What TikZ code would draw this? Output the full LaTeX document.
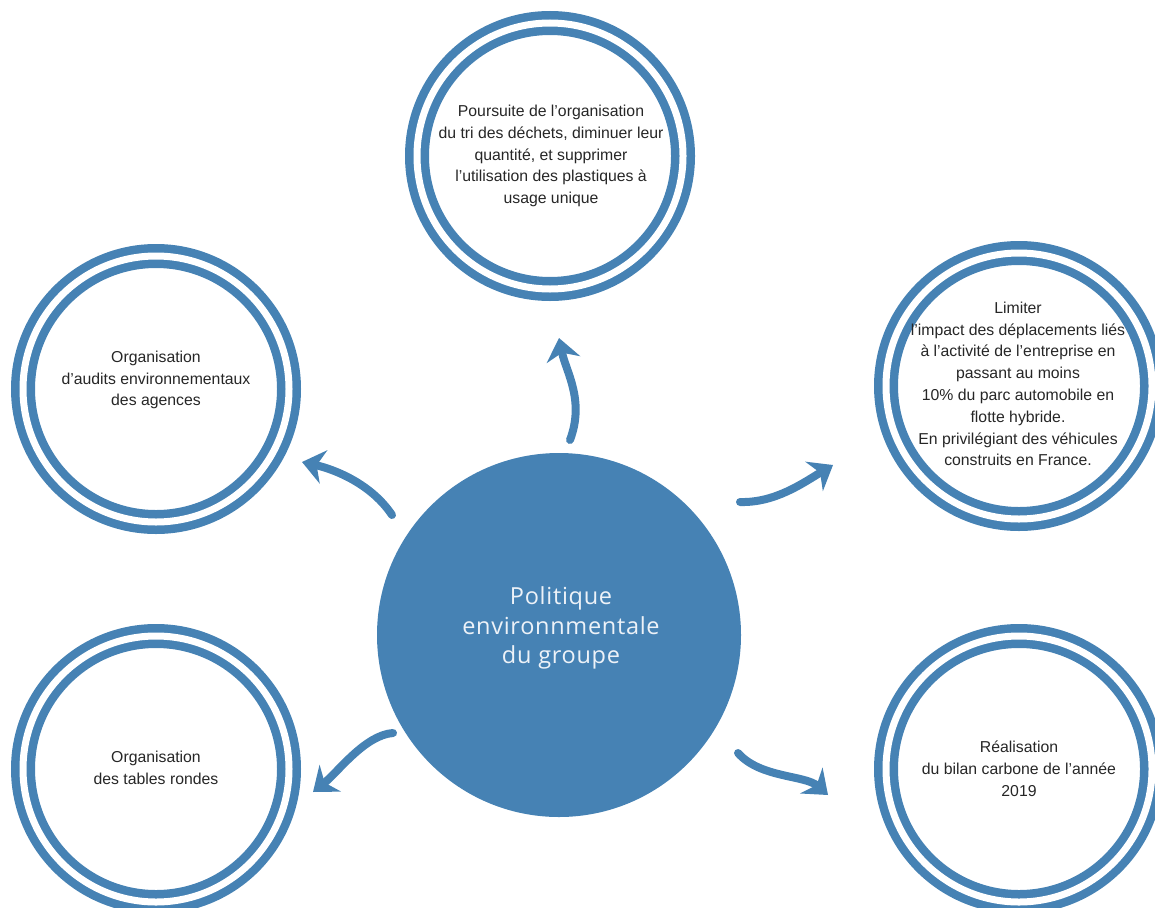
\documentclass[tikz,border=0pt]{standalone}
\usepackage{fontspec}
\setmainfont{Liberation Sans}
\newfontfamily\hubfont[LetterSpace=3]{Open Sans}
\usetikzlibrary{arrows.meta}
\definecolor{ringblue}{HTML}{4682B4}
\definecolor{txtgray}{HTML}{262626}
\definecolor{hubtxt}{HTML}{EDF2F8}
\begin{document}
\begin{tikzpicture}[x=1pt,y=-1pt,
  ring/.style={circle, draw=ringblue, line width=8.5pt, double=white, double distance=7pt, minimum size=266pt, inner sep=0pt},
  ringtext/.style={align=center, text=txtgray, font=\fontsize{15.8}{21.8}\selectfont, inner sep=0pt},
  hub/.style={circle, fill=ringblue, minimum size=364pt, inner sep=0pt},
  hubtext/.style={align=center, text=hubtxt, font=\hubfont\fontsize{23.5}{29.5}\selectfont, inner sep=0pt},
  flow/.style={draw=ringblue, line width=8pt, line cap=round, -{Stealth[length=22pt,width=34pt,inset=7pt]}}
]
\useasboundingbox (0,0) rectangle (1155,907);
\clip (0,0) rectangle (1155,907);

% hub
\node[hub] (hub) at (559,635) {};
\node[hubtext] (hubt) at (561,628) {Politique\\environnmentale\\du groupe};

% satellites
\node[ring] (top) at (550,156) {};
\node[ring] (left) at (156,389) {};
\node[ring] (right) at (1019,386) {};
\node[ring] (bl) at (156,769) {};
\node[ring] (br) at (1019,769) {};

\node[ringtext] (topt) at (551,156) {Poursuite de l’organisation\\du tri des déchets, diminuer leur\\quantité, et supprimer\\l’utilisation des plastiques à\\usage unique};
\node[ringtext] (leftt) at (156,380) {Organisation\\d’audits environnementaux\\des agences};
\node[ringtext] (rightt) at (1018,384) {Limiter\\l’impact des déplacements liés\\à l’activité de l’entreprise en\\passant au moins\\10\% du parc automobile en\\flotte hybride.\\En privilégiant des véhicules\\construits en France.};
\node[ringtext] (blt) at (156,768) {Organisation\\des tables rondes};
\node[ringtext] (brt) at (1019,769) {Réalisation\\du bilan carbone de l’année\\2019};

% arrow end points
\coordinate (a1s) at (570,440);  \coordinate (a1e) at (559,338);
\coordinate (a2s) at (392,515);  \coordinate (a2e) at (302,462);
\coordinate (a3s) at (740,502);  \coordinate (a3e) at (833,465);
\coordinate (a4s) at (393,733);  \coordinate (a4e) at (313,792);
\coordinate (a5s) at (738,753);  \coordinate (a5e) at (828,795);

\draw[flow] (a1s) .. controls +(15,-40) and +(7,34) .. (a1e);
\draw[flow] (a2s) .. controls +(-20,-30) and +(35,8) .. (a2e);
\draw[flow] (a3s) .. controls +(35,1) and +(-30,18) .. (a3e);
\draw[flow] (a4s) .. controls +(-28,2) and +(25,-20) .. (a4e);
\draw[flow] (a5s) .. controls +(22,25) and +(-23,-20) .. (a5e);
\end{tikzpicture}
\end{document}
